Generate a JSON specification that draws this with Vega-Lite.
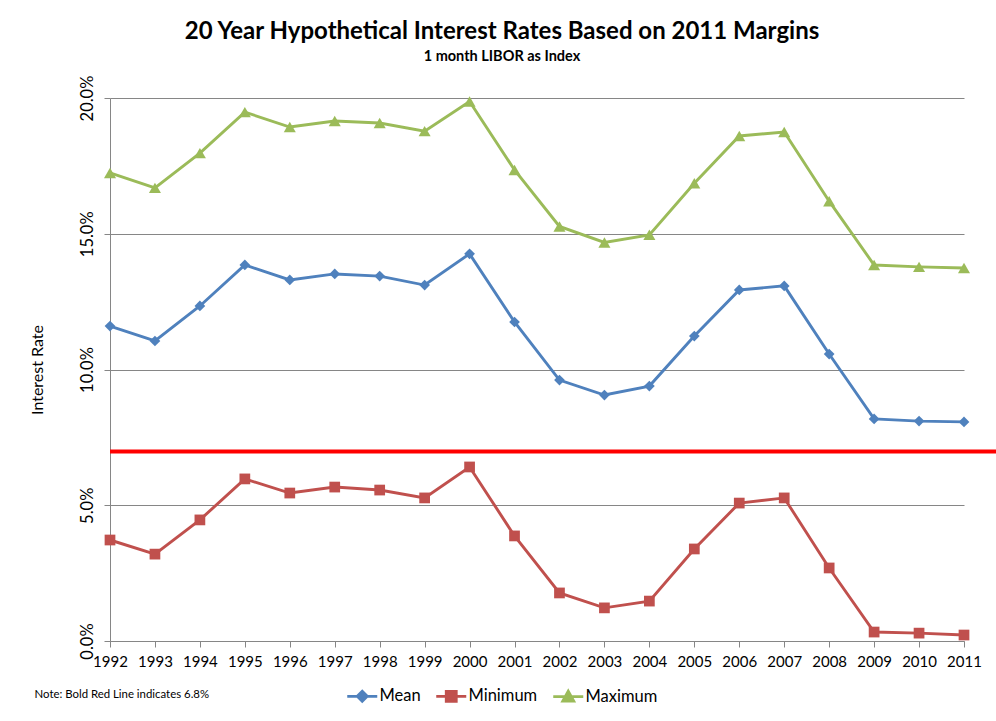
{
  "$schema": "https://vega.github.io/schema/vega-lite/v6.json",
  "autosize": {"type": "none"},
  "width": 854,
  "height": 543,
  "padding": {"left": 110, "top": 98, "right": 32, "bottom": 80},
  "background": "white",
  "config": {
    "font": "Lato",
    "view": {"stroke": null},
    "axis": {"labelFont": "Lato", "titleFont": "Lato", "labelColor": "#000000", "titleColor": "#000000"}
  },
  "title": {
    "text": "20 Year Hypothetical Interest Rates Based on 2011 Margins",
    "subtitle": "1 month LIBOR as Index",
    "font": "Lato",
    "fontSize": 24,
    "fontWeight": "bold",
    "subtitleFont": "Lato",
    "subtitleFontSize": 14.5,
    "subtitleFontWeight": "bold",
    "subtitleColor": "#000000",
    "subtitlePadding": 6,
    "anchor": "middle",
    "dx": -35,
    "dy": 21,
    "offset": 33,
    "color": "#000000"
  },
  "datasets": {
    "rates": [
      {"year": 1992, "series": "Mean", "rate": 11.6},
      {"year": 1993, "series": "Mean", "rate": 11.05},
      {"year": 1994, "series": "Mean", "rate": 12.34},
      {"year": 1995, "series": "Mean", "rate": 13.85},
      {"year": 1996, "series": "Mean", "rate": 13.3},
      {"year": 1997, "series": "Mean", "rate": 13.52},
      {"year": 1998, "series": "Mean", "rate": 13.44},
      {"year": 1999, "series": "Mean", "rate": 13.11},
      {"year": 2000, "series": "Mean", "rate": 14.26},
      {"year": 2001, "series": "Mean", "rate": 11.75},
      {"year": 2002, "series": "Mean", "rate": 9.61},
      {"year": 2003, "series": "Mean", "rate": 9.06},
      {"year": 2004, "series": "Mean", "rate": 9.39},
      {"year": 2005, "series": "Mean", "rate": 11.23},
      {"year": 2006, "series": "Mean", "rate": 12.93},
      {"year": 2007, "series": "Mean", "rate": 13.08},
      {"year": 2008, "series": "Mean", "rate": 10.57},
      {"year": 2009, "series": "Mean", "rate": 8.18},
      {"year": 2010, "series": "Mean", "rate": 8.1},
      {"year": 2011, "series": "Mean", "rate": 8.07},
      {"year": 1992, "series": "Minimum", "rate": 3.72},
      {"year": 1993, "series": "Minimum", "rate": 3.2},
      {"year": 1994, "series": "Minimum", "rate": 4.46},
      {"year": 1995, "series": "Minimum", "rate": 5.97},
      {"year": 1996, "series": "Minimum", "rate": 5.45},
      {"year": 1997, "series": "Minimum", "rate": 5.67},
      {"year": 1998, "series": "Minimum", "rate": 5.56},
      {"year": 1999, "series": "Minimum", "rate": 5.27},
      {"year": 2000, "series": "Minimum", "rate": 6.41},
      {"year": 2001, "series": "Minimum", "rate": 3.87},
      {"year": 2002, "series": "Minimum", "rate": 1.77},
      {"year": 2003, "series": "Minimum", "rate": 1.22},
      {"year": 2004, "series": "Minimum", "rate": 1.47},
      {"year": 2005, "series": "Minimum", "rate": 3.39},
      {"year": 2006, "series": "Minimum", "rate": 5.08},
      {"year": 2007, "series": "Minimum", "rate": 5.27},
      {"year": 2008, "series": "Minimum", "rate": 2.69},
      {"year": 2009, "series": "Minimum", "rate": 0.33},
      {"year": 2010, "series": "Minimum", "rate": 0.29},
      {"year": 2011, "series": "Minimum", "rate": 0.22},
      {"year": 1992, "series": "Maximum", "rate": 17.24},
      {"year": 1993, "series": "Maximum", "rate": 16.69},
      {"year": 1994, "series": "Maximum", "rate": 17.97},
      {"year": 1995, "series": "Maximum", "rate": 19.48},
      {"year": 1996, "series": "Maximum", "rate": 18.93},
      {"year": 1997, "series": "Maximum", "rate": 19.15},
      {"year": 1998, "series": "Maximum", "rate": 19.08},
      {"year": 1999, "series": "Maximum", "rate": 18.78},
      {"year": 2000, "series": "Maximum", "rate": 19.87},
      {"year": 2001, "series": "Maximum", "rate": 17.35},
      {"year": 2002, "series": "Maximum", "rate": 15.27},
      {"year": 2003, "series": "Maximum", "rate": 14.68},
      {"year": 2004, "series": "Maximum", "rate": 14.96},
      {"year": 2005, "series": "Maximum", "rate": 16.86},
      {"year": 2006, "series": "Maximum", "rate": 18.6},
      {"year": 2007, "series": "Maximum", "rate": 18.75},
      {"year": 2008, "series": "Maximum", "rate": 16.2},
      {"year": 2009, "series": "Maximum", "rate": 13.85},
      {"year": 2010, "series": "Maximum", "rate": 13.78},
      {"year": 2011, "series": "Maximum", "rate": 13.74}
    ],
    "redline": [
      {"start": 1992, "end": 2011.75, "level": 6.98}
    ]
  },
  "layer": [
    {
      "data": {"name": "rates"},
      "mark": {"type": "line", "strokeWidth": 2.9},
      "encoding": {
        "x": {
          "field": "year", "type": "quantitative",
          "scale": {"domain": [1992, 2011], "nice": false, "zero": false},
          "axis": {
            "values": [1992,1993,1994,1995,1996,1997,1998,1999,2000,2001,2002,2003,2004,2005,2006,2007,2008,2009,2010,2011],
            "format": "d",
            "grid": false,
            "domainColor": "#868686",
            "tickColor": "#868686",
            "tickSize": 6,
            "labelFontSize": 15,
            "labelPadding": 7,
            "labelFlush": false,
            "labelOverlap": false,
            "title": "Note: Bold Red Line indicates 6.8%",
            "titleFontSize": 11.4,
            "titleFontWeight": "normal",
            "titleAnchor": "start",
            "titleAlign": "left",
            "titleX": -76,
            "titleY": 47
          }
        },
        "y": {
          "field": "rate", "type": "quantitative",
          "scale": {"domain": [0, 20], "nice": false},
          "axis": {
            "values": [0, 5, 10, 15, 20],
            "labelExpr": "format(datum.value, '.1f') + '%'",
            "labelAngle": 270,
            "labelAlign": "center",
            "labelBaseline": "bottom",
            "labelFontSize": 16.5,
            "labelPadding": 9,
            "grid": true,
            "gridColor": "#868686",
            "gridWidth": 1,
            "domainColor": "#868686",
            "tickColor": "#868686",
            "tickSize": 6,
            "title": "Interest Rate",
            "titleFontSize": 16,
            "titleFontWeight": "normal",
            "titlePadding": 34
          }
        },
        "color": {
          "field": "series", "type": "nominal",
          "scale": {"domain": ["Mean", "Minimum", "Maximum"], "range": ["#4F81BD", "#C0504D", "#9BBB59"]},
          "legend": {
            "title": null,
            "orient": "none",
            "direction": "horizontal",
            "legendX": 244,
            "legendY": 590,
            "symbolSize": 100,
            "symbolStrokeWidth": 2.8,
            "labelFontSize": 16.5,
            "labelFont": "Lato",
            "labelColor": "#000000",
            "labelOffset": 9,
            "columnPadding": 9,
            "encode": {
              "symbols": {
                "update": {
                  "shape": {"signal": "datum.value === 'Mean' ? 'M-3,0H3M0,-1L1,0L0,1L-1,0Z' : datum.value === 'Minimum' ? 'M-3,0H3M-1,-1H1V1H-1Z' : 'M-3,0H3M0,-1.1L1.1,0.9H-1.1Z'"},
                  "fill": {"scale": "color", "field": "value"},
                  "stroke": {"scale": "color", "field": "value"},
                  "strokeWidth": {"value": 2.8},
                  "fillOpacity": {"value": 1},
                  "opacity": {"value": 1}
                }
              }
            }
          }
        }
      }
    },
    {
      "data": {"name": "rates"},
      "transform": [{"filter": "datum.series === 'Mean'"}],
      "mark": {"type": "point", "filled": true, "opacity": 1, "shape": "diamond", "size": 115, "color": "#4F81BD"},
      "encoding": {
        "x": {"field": "year", "type": "quantitative"},
        "y": {"field": "rate", "type": "quantitative"}
      }
    },
    {
      "data": {"name": "rates"},
      "transform": [{"filter": "datum.series === 'Minimum'"}],
      "mark": {"type": "point", "filled": true, "opacity": 1, "shape": "square", "size": 115, "color": "#C0504D"},
      "encoding": {
        "x": {"field": "year", "type": "quantitative"},
        "y": {"field": "rate", "type": "quantitative"}
      }
    },
    {
      "data": {"name": "rates"},
      "transform": [{"filter": "datum.series === 'Maximum'"}],
      "mark": {"type": "point", "filled": true, "opacity": 1, "shape": "triangle-up", "size": 145, "color": "#9BBB59"},
      "encoding": {
        "x": {"field": "year", "type": "quantitative"},
        "y": {"field": "rate", "type": "quantitative"}
      }
    },
    {
      "data": {"name": "redline"},
      "mark": {"type": "rule", "color": "#FF0000", "strokeWidth": 4, "clip": false},
      "encoding": {
        "x": {"field": "start", "type": "quantitative"},
        "x2": {"field": "end"},
        "y": {"field": "level", "type": "quantitative"}
      }
    }
  ]
}
